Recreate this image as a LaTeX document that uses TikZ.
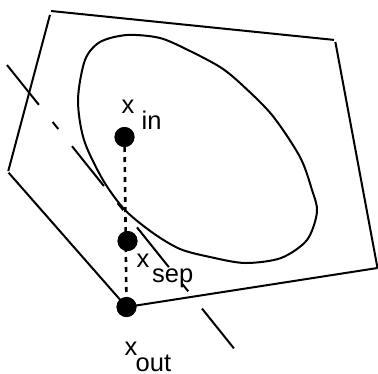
\documentclass[tikz,border=0pt]{standalone}
\usepackage{fontspec}
\setmainfont{Liberation Sans}
\begin{document}
\begin{tikzpicture}[x=1pt,y=-1pt,
  solidline/.style={line width=2pt},
  dotline/.style={line width=2.6pt, dash pattern=on 5pt off 5pt},
  tangentline/.style={line width=2pt, dash pattern=on 51pt off 22pt on 9pt off 22pt},
  bigdot/.style={circle, fill=black, inner sep=0pt, minimum size=20pt},
  lbl/.style={anchor=base west, inner sep=0pt, font=\fontsize{25.5}{30}\selectfont}]
\useasboundingbox (0,0) rectangle (378,373);
% polygon vertices
\coordinate (A) at (51,11);
\coordinate (B) at (335,40);
\coordinate (C) at (377.5,268);
\coordinate (D) at (126.5,307);
\coordinate (E) at (8,172);
\draw[solidline, shorten >=1pt] (A) -- (B);
\draw[solidline, shorten <=2pt] (B) -- (C);
\draw[solidline] (C) -- (D);
\draw[solidline, shorten <=1pt] (E) -- (D);
\draw[solidline, shorten <=4pt, shorten >=1pt] (A) -- (E);
% ellipse-like region
\draw[solidline] plot[smooth cycle] coordinates {
 (127,35) (160,38) (190,51) (220,67) (240,83) (272,115) (300,157) (312,190)
 (317,212) (307,240) (281,258) (245,263) (210,257) (180,249) (153,233)
 (125,210) (103,180) (84,140) (78,100) (85,60) (100,42)};
% tangent (separating) line
\coordinate (T1) at (7,65);
\coordinate (T2) at (236,351);
\draw[tangentline] (T1) -- (T2);
% points
\node[bigdot] (xin) at (124.5,137) {};
\node[bigdot] (xsep) at (127.5,241) {};
\node[bigdot] (xout) at (126.5,307) {};
\draw[dotline] (xin.center) -- (xout.center);
\node[bigdot] at (xin) {};
\node[bigdot] at (xsep) {};
\node[bigdot] at (xout) {};
% labels
\node[lbl] (lxin) at (121.5,113) {x};
\node[lbl] (lxinsub) at (141.5,129) {in};
\node[lbl] (lxsep) at (136.5,267) {x};
\node[lbl] (lxsepsub) at (152,282) {sep};
\node[lbl] (lxout) at (124.5,355) {x};
\node[lbl] (lxoutsub) at (135.5,371) {out};
\end{tikzpicture}
\end{document}
